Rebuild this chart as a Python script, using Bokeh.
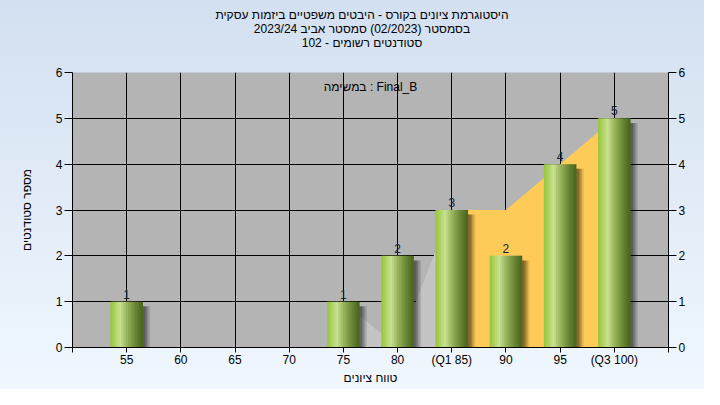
from bokeh.plotting import figure
from bokeh.models import ColumnDataSource, LinearAxis, Range1d, FixedTicker, Label, Column, Div
from bokeh.transform import dodge
from bokeh.core.properties import value
from bokeh.embed import file_html
from bokeh.resources import INLINE

title_lines = [
    "היסטוגרמת ציונים בקורס - היבטים משפטיים ביזמות עסקית",
    "בסמסטר  (02/2023)  סמסטר אביב 2023/24",
    "סטודנטים רשומים - 102",
]
legend_text = "במשימה : Final_B"
x_title = "טווח ציונים"
y_title = "מספר סטודנטים"

grades = [55, 60, 65, 70, 75, 80, 85, 90, 95, 100]
grade_labels = ["55", "60", "65", "70", "75", "80", "(Q1 85)", "90", "95", "(Q3 100)"]
counts = [1, 0, 0, 0, 1, 2, 3, 2, 4, 5]

iqr_x = [85, 90, 95, 100]
iqr_top = [3, 3, 4, 5]
low_x = [75, 80, 85]
low_top = [1, 0, 3]

y_ticks = [0, 1, 2, 3, 4, 5, 6]
x_start, x_end = 50, 105

FONT = "Liberation Sans"

title_div = Div(
    text="<br>".join(title_lines),
    width=704, height=48, margin=0,
    styles={"text-align": "center", "font-family": FONT, "font-size": "12px",
            "line-height": "14px", "color": "#000000", "padding-top": "8px",
            "padding-left": "20px", "box-sizing": "border-box"},
)

p = figure(
    frame_width=596, frame_height=275,
    x_range=Range1d(x_start, x_end), y_range=Range1d(0, 6),
    output_backend="svg", toolbar_location=None,
    min_border_left=72, min_border_right=36, min_border_top=24, min_border_bottom=42,
    background_fill_color="#b4b4b4", border_fill_alpha=0.0,
    outline_line_color=None,
)

# grid
p.xgrid.ticker = FixedTicker(ticks=grades)
p.ygrid.ticker = FixedTicker(ticks=y_ticks)
for g in (p.xgrid, p.ygrid):
    g.grid_line_color = "#000000"
    g.grid_line_width = 1
    g.grid_line_alpha = 1.0

# axes
xa = p.xaxis[0]
xa.ticker = FixedTicker(ticks=[x_start] + grades + [x_end])
overrides = {g: l for g, l in zip(grades, grade_labels)}
overrides[x_start] = ""
overrides[x_end] = ""
xa.major_label_overrides = overrides
xa.axis_label = x_title
ya = p.yaxis[0]
ya.ticker = FixedTicker(ticks=y_ticks)
ya.axis_label = y_title
ra = LinearAxis(ticker=FixedTicker(ticks=y_ticks))
p.add_layout(ra, "right")

for ax in (xa, ya, ra):
    ax.axis_line_color = "#000000"
    ax.major_tick_line_color = "#000000"
    ax.minor_tick_line_color = None
    ax.major_tick_in = 0
    ax.major_label_text_font = FONT
    ax.major_label_text_font_size = "12px"
    ax.major_label_text_color = "#000000"
    ax.axis_label_text_font = FONT
    ax.axis_label_text_font_size = "12px"
    ax.axis_label_text_font_style = "normal"
    ax.axis_label_text_color = "#000000"
xa.major_tick_out = 5
xa.major_label_standoff = 0
xa.axis_label_standoff = 1
ya.major_tick_out = 8
ya.major_label_standoff = 2
ya.axis_label_standoff = 19
ra.major_tick_out = 8
ra.major_label_standoff = 2

# areas behind bars
p.varea(x=low_x, y1=0, y2=low_top, fill_color="#c4c4c4")
p.varea(x=iqr_x, y1=0, y2=iqr_top, fill_color="#fecb58")

src = ColumnDataSource(dict(
    grade=grades, count=counts,
    shadow_top=[c - 0.1 if c > 0 else 0 for c in counts],
    label=[str(c) if c > 0 else "" for c in counts],
))

bar_w = 2.95
# drop shadow
for off, a in [(0.25, 0.18), (0.4, 0.18), (0.55, 0.14), (0.7, 0.1)]:
    p.vbar(x=dodge("grade", off, range=p.x_range), top="shadow_top", bottom=-0.06,
           width=bar_w, source=src, fill_color="#000000", fill_alpha=a, line_color=None)

# cylinder-like gradient bars
stops = [(0.0, (150, 196, 56)), (0.3, (200, 226, 146)), (0.5, (156, 184, 96)),
         (0.78, (104, 134, 52)), (1.0, (72, 100, 30))]


def col_at(f):
    for (f0, c0), (f1, c1) in zip(stops[:-1], stops[1:]):
        if f0 <= f <= f1:
            t = (f - f0) / (f1 - f0)
            return "#%02x%02x%02x" % tuple(int(round(a + (b - a) * t)) for a, b in zip(c0, c1))
    return "#%02x%02x%02x" % stops[-1][1]


n = 18
sw = bar_w / n
for i in range(n):
    f = (i + 0.5) / n
    p.vbar(x=dodge("grade", (f - 0.5) * bar_w, range=p.x_range), top="count", bottom=0,
           width=sw * 1.35, source=src, fill_color=col_at(f), line_color=None)

p.text(x="grade", y="count", text="label", source=src, text_align="center",
       text_baseline="bottom", y_offset=-3, text_font_size="12px",
       text_color="#1a2233", text_font=value(FONT))

p.add_layout(Label(x=(x_start + x_end) / 2, y=5.69, text=legend_text,
                   text_align="center", text_baseline="middle", text_font_size="12px",
                   text_font=FONT, text_color="#000000"))

layout = Column(children=[title_div, p], spacing=0,
                styles={"background": "linear-gradient(#d3e0f1, #f0f7fe)"})

open("out.html", "w").write(file_html(layout, INLINE))
